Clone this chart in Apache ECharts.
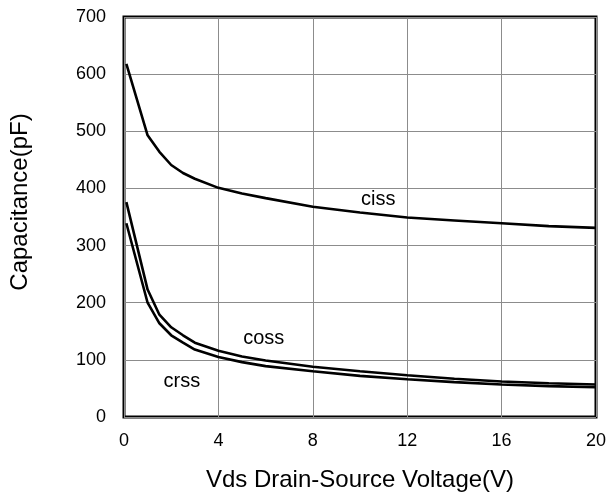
<!DOCTYPE html>
<html>
<head>
<meta charset="utf-8">
<script src="https://cdn.jsdelivr.net/npm/echarts@6/dist/echarts.min.js"></script>
<style>
  html, body { margin: 0; padding: 0; background: #fff; }
  #chart { width: 609px; height: 498px; }
</style>
</head>
<body>
<div id="chart"></div>
<script>
  // Vds (V)
  const vds = [0.1, 1, 1.5, 2, 2.5, 3, 4, 5, 6, 8, 10, 12, 14, 16, 18, 20];
  // capacitance (pF)
  const ciss = [618, 493, 464, 441, 427, 417, 401, 391, 383, 368, 358, 349, 344, 339, 334, 331];
  const coss = [376, 223, 179, 157, 143, 130, 116, 106, 99, 88, 80, 73, 67, 62, 59, 57];
  const crss = [339, 200, 164, 143, 130, 118, 105, 96, 89, 80, 72, 66, 61, 57, 54, 52];

  const font = 'Liberation Sans, Arial, sans-serif';

  function pairs(ys) {
    return vds.map((x, i) => [x, ys[i]]);
  }

  // label a curve inside the plot
  function tag(text, x, y) {
    return {
      symbol: 'circle',
      symbolSize: 1,
      itemStyle: { color: 'transparent' },
      data: [{
        coord: [x, y],
        label: {
          show: true,
          formatter: text,
          position: 'inside',
          color: '#000',
          fontSize: 20,
          fontFamily: font
        }
      }]
    };
  }

  function line(name, ys, label) {
    return {
      name: name,
      type: 'line',
      data: pairs(ys),
      showSymbol: false,
      smooth: false,
      lineStyle: { color: '#000', width: 2.6 },
      markPoint: label,
      z: 3
    };
  }

  const chart = echarts.init(document.getElementById('chart'));
  chart.setOption({
    animation: false,
    grid: {
      left: 122,
      top: 17,
      right: 12,
      bottom: 81,
      show: true,
      borderColor: '#000',
      borderWidth: 3,
      backgroundColor: 'transparent'
    },
    xAxis: {
      type: 'value',
      min: 0,
      max: 20,
      interval: 4,
      name: 'Vds Drain-Source Voltage(V)',
      nameLocation: 'middle',
      nameGap: 51,
      nameTextStyle: { color: '#000', fontSize: 24, fontFamily: font },
      axisLine: { show: false },
      axisTick: { show: false },
      axisLabel: { color: '#000', fontSize: 18, fontFamily: font, margin: 15 },
      splitLine: { show: true, lineStyle: { color: '#8c8c8c', width: 1 } }
    },
    yAxis: {
      type: 'value',
      min: 0,
      max: 700,
      interval: 100,
      name: 'Capacitance(pF)',
      nameLocation: 'middle',
      nameGap: 92,
      nameTextStyle: { color: '#000', fontSize: 24, fontFamily: font, padding: [0, 0, 0, 30] },
      axisLine: { show: false },
      axisTick: { show: false },
      axisLabel: { color: '#000', fontSize: 18, fontFamily: font, margin: 18 },
      splitLine: { show: true, lineStyle: { color: '#8c8c8c', width: 1 } }
    },
    series: [
      line('ciss', ciss, tag('ciss', 10.77, 381)),
      line('coss', coss, tag('coss', 5.92, 138)),
      line('crss', crss, tag('crss', 2.45, 63))
    ]
  });
</script>
</body>
</html>
